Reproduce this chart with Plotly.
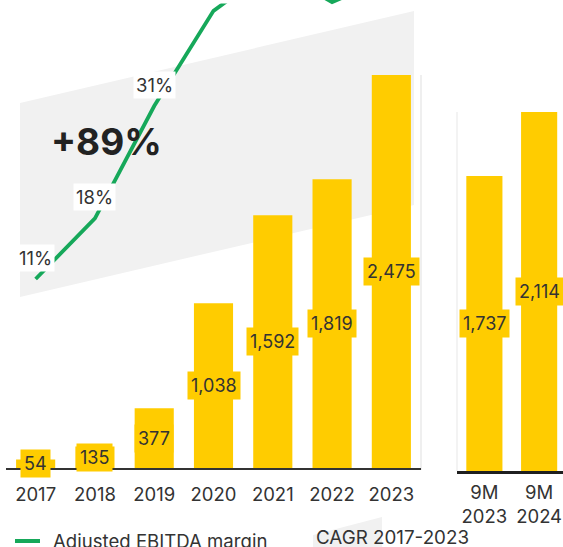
import plotly.graph_objects as go

# Revenue bars (full years and nine-month periods) and the adjusted EBITDA margin line
years = ["2017", "2018", "2019", "2020", "2021", "2022", "2023"]
revenue = [54, 135, 377, 1038, 1592, 1819, 2475]
periods = ["9M<br>2023", "9M<br>2024"]
revenue_9m = [1737, 2114]
margin_pct = [11, 18, 31, 42, 47, 43, 46]
cagr_text = "+89%"

W, H = 563, 547
YELLOW = "#ffcc00"
GREEN = "#16a85a"
TEXT = "#333333"
BAND = "#f1f1f1"
FONT = "Inter"


def px(x):
    return x / W


def py(y):
    return 1 - y / H


fig = go.Figure()

fig.add_trace(go.Bar(
    x=years, y=revenue, marker=dict(color=YELLOW, line=dict(width=0)),
    width=0.66, xaxis="x", yaxis="y", hoverinfo="skip", showlegend=False,
))
fig.add_trace(go.Bar(
    x=periods, y=revenue_9m, marker=dict(color=YELLOW, line=dict(width=0)),
    width=0.66, xaxis="x2", yaxis="y2", hoverinfo="skip", showlegend=False,
))
fig.add_trace(go.Scatter(
    x=years, y=margin_pct, mode="lines", xaxis="x", yaxis="y3",
    line=dict(color=GREEN, width=3.8), hoverinfo="skip", showlegend=False,
))

annotations = []
# value tags centred on each bar (category index used as x position)
for i, v in enumerate(revenue):
    annotations.append(dict(
        x=i, y=v / 2, xref="x", yref="y", text=f"{v:,}", showarrow=False,
        bgcolor=YELLOW, borderpad=3, font=dict(family=FONT, size=18, color=TEXT),
    ))
for i, v in enumerate(revenue_9m):
    annotations.append(dict(
        x=i, y=v / 2, xref="x2", yref="y2", text=f"{v:,}", showarrow=False,
        bgcolor=YELLOW, borderpad=3, font=dict(family=FONT, size=18, color=TEXT),
    ))
# margin tags just above each point
for i, m in enumerate(margin_pct):
    annotations.append(dict(
        x=i, y=m, xref="x", yref="y3", text=f"{m}%", showarrow=False, yshift=21,
        bgcolor="white", borderpad=2, font=dict(family=FONT, size=18.5, color=TEXT),
    ))
# CAGR headline
annotations.append(dict(
    x=px(49), y=py(142), xref="paper", yref="paper", xanchor="left", yanchor="middle",
    text=cagr_text, showarrow=False,
    font=dict(family=FONT, size=37, color="#222222", weight=700),
))
# legend entries
annotations.append(dict(
    x=px(51), y=py(541), xref="paper", yref="paper", xanchor="left", yanchor="middle",
    text="Adjusted EBITDA margin", showarrow=False,
    font=dict(family=FONT, size=18.6, color=TEXT),
))
annotations.append(dict(
    x=px(314), y=py(537), xref="paper", yref="paper", xanchor="left", yanchor="middle",
    text="CAGR 2017-2023", showarrow=False,
    font=dict(family=FONT, size=18.8, color=TEXT),
))

shapes = [
    # CAGR band behind the full-year bars
    dict(type="path", xref="paper", yref="paper", layer="below", line=dict(width=0),
         fillcolor=BAND,
         path=f"M {px(20)} {py(103)} L {px(414)} {py(11)} L {px(414)} {py(205)} "
              f"L {px(20)} {py(297)} Z"),
    # CAGR legend swatch
    dict(type="path", xref="paper", yref="paper", layer="below", line=dict(width=0),
         fillcolor=BAND,
         path=f"M {px(313)} {py(535)} L {px(382)} {py(517)} L {px(382)} {py(547)} "
              f"L {px(313)} {py(547)} Z"),
    # margin legend swatch
    dict(type="line", xref="paper", yref="paper", x0=px(15), x1=px(40),
         y0=py(541), y1=py(541), line=dict(color=GREEN, width=4)),
    # faint panel edges
    dict(type="line", xref="paper", yref="paper", x0=px(421), x1=px(421),
         y0=py(75), y1=py(470), line=dict(color="#efefef", width=2), layer="below"),
    dict(type="line", xref="paper", yref="paper", x0=px(457), x1=px(457),
         y0=py(112), y1=py(471), line=dict(color="#f3f3f3", width=2), layer="below"),
]

tickfont = dict(family=FONT, size=18.5, color=TEXT)

fig.update_layout(
    width=W, height=H, margin=dict(l=0, r=0, t=0, b=0),
    paper_bgcolor="white", plot_bgcolor="rgba(0,0,0,0)",
    showlegend=False, barmode="overlay",
    xaxis=dict(domain=[px(6), px(421)], range=[-0.5, 6.5], type="category",
               showgrid=False, zeroline=False, showline=True, linecolor="#333333",
               linewidth=2, ticks="", tickfont=tickfont, anchor="y",
               ticklabelstandoff=9),
    yaxis=dict(domain=[py(468), 1], range=[0, 468 * 2475 / 393], visible=False,
               showgrid=False, zeroline=False),
    xaxis2=dict(domain=[px(457), 1], range=[-0.5, 1.436], type="category",
                showgrid=False, zeroline=False, showline=True, linecolor="#1f1f1f",
                linewidth=2.5, ticks="", tickfont=tickfont, anchor="y2",
                ticklabelstandoff=3),
    yaxis2=dict(domain=[py(471), 1], range=[0, 471 * 2114 / 359], visible=False,
                showgrid=False, zeroline=False),
    yaxis3=dict(overlaying="y", range=[11 - 189 / 8.65, 11 + 279 / 8.65],
                visible=False, showgrid=False, zeroline=False),
    annotations=annotations, shapes=shapes,
)

fig.write_html("out.html")
